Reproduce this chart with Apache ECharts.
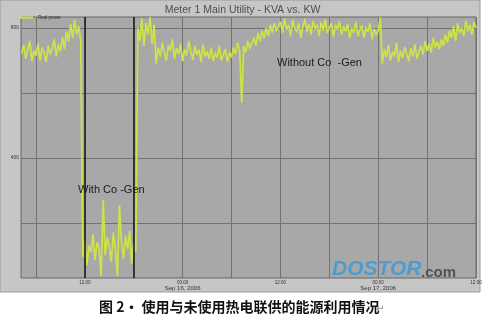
<!DOCTYPE html>
<html>
<head>
<meta charset="utf-8">
<script src="https://cdn.jsdelivr.net/npm/echarts@6/dist/echarts.min.js"></script>
<style>
  html, body { margin: 0; padding: 0; background: #ffffff; }
  #chart { width: 485px; height: 328px; }
</style>
</head>
<body>
<div id="chart"></div>
<script>
// Real power readings (kW), one every 15 minutes from Sep 15 04:15 to Sep 17 12:00
const startHour = 4.25;      // hours after Sep 15, 2006 00:00
const stepHours = 0.25;
const realPower = [
  722, 748, 705, 735, 760, 698, 730, 715, 752, 700, 740, 725, 695, 745, 718,
  738, 765, 712, 750, 728, 772, 735,
  790, 758, 812, 770, 825, 780, 805,
  760,
  95, 150, 70, 130, 110, 165, 85, 140, 120, 35, 270, 100, 155, 125, 80, 170, 115,
  35, 255, 140, 90, 160, 120, 175, 75, 135, 110,
  800, 760, 830, 745, 815, 780, 834, 750, 810,
  690,
  740, 712, 755, 725, 700, 748, 730, 765, 705, 738,
  720, 752, 698, 735, 715, 760, 728, 702, 745, 718,
  733, 696, 750, 712, 728, 705, 740, 698, 722, 710,
  745, 700, 718, 735, 695, 725,
  710, 740, 720, 755, 730,
  570,
  745, 725, 760, 738,
  752, 770, 745, 785, 760, 792, 768, 800, 775, 810, 785, 815, 790, 805,
  820, 785, 830, 795, 810, 775, 825, 800, 790, 815,
  770, 805, 828, 788, 812, 780, 822, 798, 808, 775,
  818, 792, 826, 785, 800, 815, 772, 810, 795, 820,
  780, 805, 790, 812, 768, 800, 785, 818, 775, 795,
  808, 770, 802, 788, 815, 765, 798, 780, 790,
  834,
  690, 735, 710, 748, 700, 725, 715, 755, 695, 730,
  708, 742, 720, 698, 738, 712, 750, 705, 728, 745,
  718, 760, 730, 752, 725, 770, 740, 758, 735,
  765, 745, 780, 755, 792, 770, 805, 760, 815, 785,
  800, 775, 822, 790, 810, 780, 818, 800
];

// Axis ranges and ticks (x in hours after Sep 15, 2006 00:00)
const xRange = [4 + 10 / 60, 60];
const yRange = [30, 834];
const xGridHours = [6, 12, 18, 24, 30, 36, 42, 48, 54, 60];
const xLabelHours = [12, 24, 36, 48, 60];
const xLabelTexts = {
  12: '{t|12:00}',
  24: '{t|00:00}\n{d|Sep 16, 2006}',
  36: '{t|12:00}',
  48: '{t|00:00}\n{d|Sep 17, 2006}',
  60: '{t|12:00}'
};
const yGridValues = [200, 400, 600, 800];
const yLabelValues = [400, 800];

// Period when the co-generation unit was running
const coGenBounds = [12, 18];

const points = realPower.map((v, i) => [startHour + i * stepHours, v]);

const chart = echarts.init(document.getElementById('chart'), null, { renderer: 'canvas' });
chart.setOption({
  animation: false,
  backgroundColor: '#ffffff',
  title: {
    text: 'Meter 1 Main Utility - KVA vs. KW',
    left: 'center',
    top: 0,
    textStyle: { fontFamily: 'Liberation Sans', fontSize: 10.5, fontWeight: 'normal', color: '#4f4f4f' }
  },
  legend: {
    data: ['Real power'],
    left: 14,
    top: 10,
    icon: 'rect',
    itemWidth: 14,
    itemHeight: 2,
    itemGap: 4,
    textStyle: { fontFamily: 'Liberation Sans', fontSize: 4.5, color: '#333333' }
  },
  grid: {
    left: 21, right: 9, top: 17, bottom: 50,
    show: true,
    backgroundColor: '#a8a8a8',
    borderColor: '#666666',
    borderWidth: 1
  },
  xAxis: {
    type: 'value',
    min: xRange[0],
    max: xRange[1],
    axisLine: { show: false },
    axisTick: { show: false, customValues: xGridHours },
    splitLine: { show: true, lineStyle: { color: '#727272', width: 1 } },
    axisLabel: {
      customValues: xLabelHours,
      margin: 2,
      formatter: (v) => xLabelTexts[Math.round(v)] || '',
      rich: {
        t: { fontFamily: 'Liberation Sans', fontSize: 4.5, color: '#333333', lineHeight: 5 },
        d: { fontFamily: 'Liberation Sans', fontSize: 6, color: '#333333', lineHeight: 6 }
      }
    }
  },
  yAxis: {
    type: 'value',
    min: yRange[0],
    max: yRange[1],
    axisLine: { show: false },
    axisTick: { show: false, customValues: yGridValues },
    splitLine: { show: true, lineStyle: { color: '#727272', width: 1 } },
    axisLabel: {
      customValues: yLabelValues,
      margin: 2,
      fontFamily: 'Liberation Sans',
      fontSize: 5,
      color: '#333333'
    }
  },
  series: [
    {
      name: 'Co-Gen markers',
      type: 'line',
      data: [],
      z: 1,
      markLine: {
        silent: true,
        symbol: ['none', 'none'],
        label: { show: false },
        lineStyle: { color: '#1e1e1e', width: 1.6, type: 'solid' },
        data: coGenBounds.map(h => ({ xAxis: h }))
      }
    },
    {
      name: 'Real power',
      type: 'line',
      data: points,
      z: 3,
      showSymbol: false,
      sampling: false,
      color: '#d0e24a',
      lineStyle: { color: '#d0e24a', width: 1.7, join: 'miter', miterLimit: 3 }
    }
  ],
  graphic: {
    elements: [
      {
        type: 'rect', z: -10, silent: true,
        shape: { x: 0, y: 0, width: 480, height: 292 },
        style: { fill: '#c6c6c6', stroke: '#9a9a9a', lineWidth: 1 }
      },
      {
        type: 'text', z: 10, left: 78, top: 184,
        style: { text: 'With Co -Gen', fill: '#1a1a1a', font: '11px "Liberation Sans"' }
      },
      {
        type: 'text', z: 10, left: 277, top: 57,
        style: { text: 'Without Co  -Gen', fill: '#1a1a1a', font: '11px "Liberation Sans"' }
      },
      {
        type: 'text', z: 10, left: 332, top: 259,
        style: { text: 'DOSTOR', fill: '#3f9ad6', opacity: 0.9, font: 'italic bold 21px "Liberation Sans"' }
      },
      {
        type: 'text', z: 10, left: 421, top: 265,
        style: { text: '.com', fill: '#4a4a4a', opacity: 0.9, font: 'bold 15px "Liberation Sans"' }
      },
      {
        type: 'text', z: 10, left: 99, top: 300,
        style: { text: '图 2· 使用与未使用热电联供的能源利用情况', fill: '#111111', font: 'bold 14px "Noto Sans CJK SC"' }
      },
      {
        type: 'text', z: 10, left: 376, top: 304,
        style: { text: '↵', fill: '#8a8fa0', font: '10px "DejaVu Sans"' }
      }
    ]
  }
});
</script>
</body>
</html>
